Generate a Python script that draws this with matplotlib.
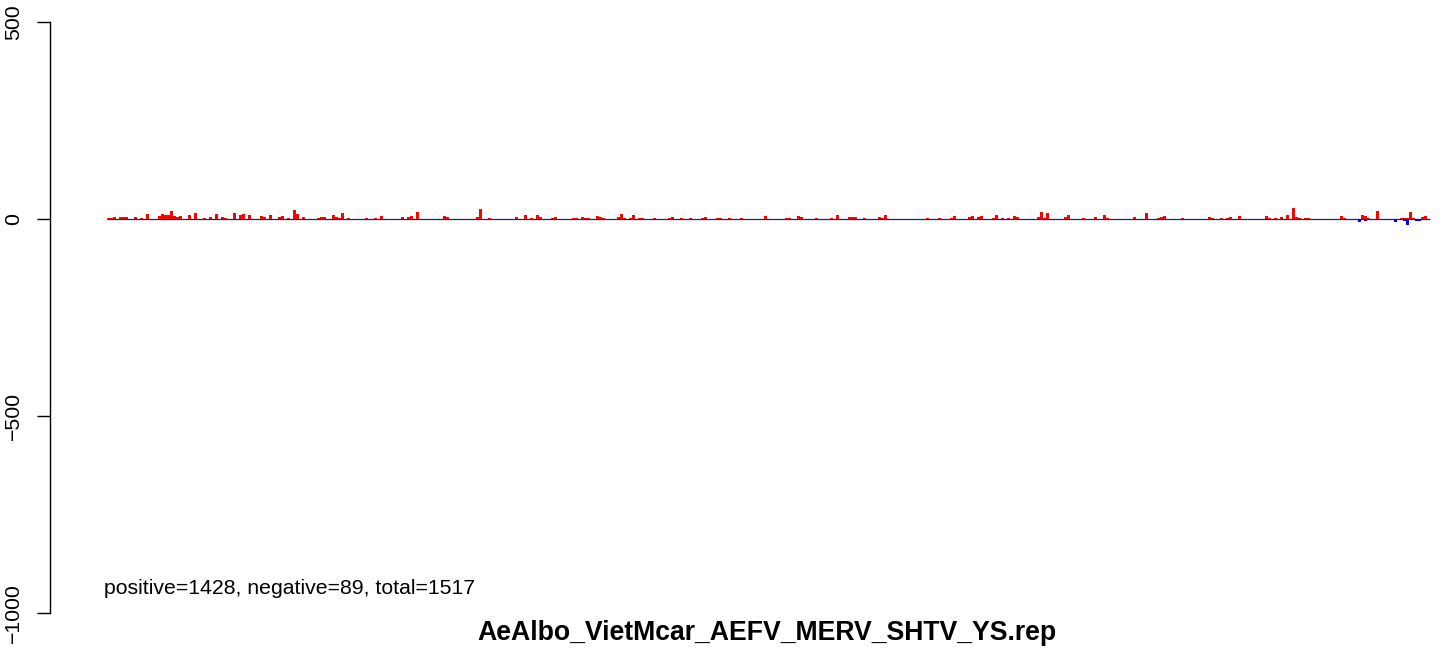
"""Strand coverage barplot for AeAlbo_VietMcar_AEFV_MERV_SHTV_YS.rep."""
import matplotlib

matplotlib.use("Agg")
import matplotlib.pyplot as plt
import numpy as np

n_bins = 441

# bin index -> read count (positive strand)
pos_bins = [0, 1, 2, 4, 5, 6, 9, 11, 13, 17, 18, 19, 20, 21, 22, 23, 24, 27, 29, 32,
            34, 36, 38, 39, 42, 44, 45, 47, 51, 52, 54, 57, 58, 60, 62, 63, 65, 70, 71, 72,
            75, 76, 77,
            78, 80, 86, 89, 91, 98, 100, 101, 103, 112, 113, 123, 124, 127, 136, 139, 141,
            143, 144, 148, 149, 155,
            156, 158, 159, 160, 163, 164, 165, 170, 171, 172, 174, 175, 177, 178, 182, 187,
            188, 191, 194, 198, 199, 203, 204, 207, 211, 219, 226, 227, 230, 231,
            236, 241, 243, 247, 248, 249, 252, 257, 258, 259, 273, 277, 281, 282, 287, 288,
            290, 291, 295, 296, 298, 300, 302, 303, 310, 311,
            312, 313, 319, 320, 325, 329, 332, 333, 342, 346, 350, 351, 352, 358, 367, 368,
            371, 373, 374, 377, 386, 387,
            389, 391, 393, 395, 396, 397, 399, 400, 411, 412, 418, 419, 420, 423, 431, 432,
            433, 434, 435, 438, 439]
pos_vals = [3, 3, 5, 4, 4, 4, 6, 3, 13, 8, 13, 11, 10, 20, 8, 6, 8, 11, 15, 3,
            5, 13, 5, 3, 15, 10, 12, 10, 8, 5, 10, 5, 8, 3, 23, 13, 5, 3, 5, 5,
            9, 6, 3,
            15, 3, 3, 3, 8, 6, 6, 8, 18, 8, 6, 6, 25, 3, 5, 11, 3,
            10, 6, 3, 5, 3,
            3, 5, 3, 3, 8, 5, 3, 5, 13, 3, 3, 10, 3, 3, 3, 3,
            5, 3, 3, 3, 5, 3, 3, 3, 3, 8, 3, 3, 8, 5,
            3, 3, 10, 5, 5, 5, 3, 5, 3, 10, 3, 3, 3, 8, 5, 8,
            5, 8, 3, 10, 3, 3, 8, 5, 5, 18,
            3, 15, 5, 10, 3, 5, 10, 3, 5, 15, 3, 5, 8, 3, 5, 3,
            3, 3, 5, 8, 8, 3,
            3, 5, 10, 28, 5, 3, 3, 3, 8, 3, 10, 8, 3, 20, 3, 3,
            3, 18, 3, 5, 8]

# bin index -> read count (negative strand)
neg_bins = [417, 419, 429, 432, 433, 436, 437]
neg_vals = [-8, -4, -8, -5, -16, -5, -5]

title = "AeAlbo_VietMcar_AEFV_MERV_SHTV_YS.rep"
summary = "positive=1428, negative=89, total=1517"
y_ticks = [-1000, -500, 0, 500]


def main() -> None:
    plt.rcParams["font.family"] = ["Liberation Sans", "DejaVu Sans"]
    pos = np.zeros(n_bins)
    pos[pos_bins] = pos_vals
    neg = np.zeros(n_bins)
    neg[neg_bins] = neg_vals
    x = np.arange(n_bins)

    W, H = 1444, 650
    fig = plt.figure(figsize=(W / 100, H / 100), dpi=100)
    ax = fig.add_axes([50 / W, (H - 613) / H, 1390 / W, 591 / H])
    # zero-height bars still leave a baseline across the binned range
    ax.hlines(0, x[0] - 0.5, x[-1] + 0.5, color="#1a1aa0", lw=0.9, zorder=1)
    ax.bar(x, pos, width=1.0, color="red", linewidth=0, zorder=2)
    ax.bar(x, neg, width=1.0, color="blue", linewidth=0, zorder=2)

    ax.set_xlim(-19.4, 443.9)
    ax.set_ylim(-1000, 500)
    for side in ("top", "right", "bottom"):
        ax.spines[side].set_visible(False)
    ax.spines["left"].set_linewidth(1.0)
    ax.set_xticks([])
    ax.set_yticks(y_ticks, [str(t).replace("-", "\u2212") for t in y_ticks])
    ax.tick_params(axis="y", direction="out", length=9.5, width=1.0, pad=10,
                   labelsize=15.3, labelrotation=90)
    for lab in ax.get_yticklabels():
        lab.set_va("center")

    fig.text(104 / W, 1 - 588 / H, summary, fontsize=15.3, ha="left", va="center")
    fig.text(767 / W, 1 - 633 / H, title, fontsize=19.2, fontweight="bold",
             ha="center", va="center")
    fig.savefig("out.png", dpi=100)


if __name__ == "__main__":
    main()
